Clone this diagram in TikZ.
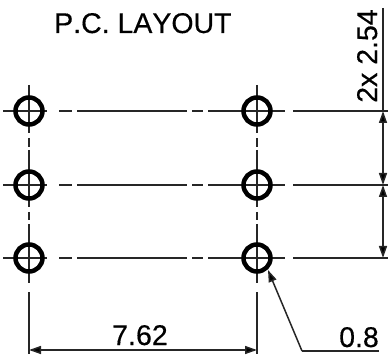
\documentclass[tikz,border=0pt]{standalone}
\usepackage{fontspec}
\setmainfont{Liberation Sans}
\newfontfamily\dimfont{Liberation Sans}[FakeBold=0.4,Kerning=Off]
\usetikzlibrary{arrows.meta}
\tikzset{
  thinline/.style={line width=1.5pt,draw=black!85},
  hole/.style={circle,draw=black,line width=4.5pt,minimum size=27pt,inner sep=0pt},
  dimarrow/.style={thinline,-{Triangle[length=12pt,width=8pt,fill=black]}},
  label/.style={inner sep=0pt,font=\dimfont\fontsize{28.5}{28.5}\selectfont,text=black}
}
\begin{document}
\begin{tikzpicture}[x=1pt,y=-1pt]
\useasboundingbox (0,0) rectangle (388,355);
% horizontal centre lines
\foreach \y in {111,185,258}{
  \draw[thinline] (3,\y) -- (47,\y);
  \draw[thinline] (59,\y) -- (72,\y);
  \draw[thinline] (77,\y) -- (187,\y);
  \draw[thinline] (192,\y) -- (203,\y);
  \draw[thinline] (208,\y) -- (285,\y);
  \draw[thinline] (293,\y) -- (388,\y);
}
% vertical centre lines
\foreach \x in {29,257}{
  \draw[thinline] (\x,85) -- (\x,133);
  \draw[thinline] (\x,138) -- (\x,147);
  \draw[thinline] (\x,150) -- (\x,207);
  \draw[thinline] (\x,212) -- (\x,220);
  \draw[thinline] (\x,224) -- (\x,283);
  \draw[thinline] (\x,292) -- (\x,354);
}
% holes
\node[hole] (a1) at (29,111) {};
\node[hole] (a2) at (29,185) {};
\node[hole] (a3) at (29,258) {};
\node[hole] (b1) at (257,111) {};
\node[hole] (b2) at (257,185) {};
\node[hole] (b3) at (257,258) {};
% vertical dimension
\coordinate (dtop) at (383,8);
\coordinate (d1) at (383,111);
\coordinate (d2) at (383,185);
\coordinate (d3) at (383,258);
\coordinate (dm) at (383,150);
\coordinate (dn) at (383,220);
\draw[thinline] (dtop) -- (d1);
\draw[dimarrow] (dm) -- (d1);
\draw[dimarrow] (dm) -- (d2);
\draw[dimarrow] (dn) -- (d2);
\draw[dimarrow] (dn) -- (d3);
% horizontal dimension
\coordinate (h1) at (29,350);
\coordinate (h2) at (257,350);
\coordinate (hm) at (143,350);
\draw[dimarrow] (hm) -- (h1);
\draw[dimarrow] (hm) -- (h2);
% leader
\coordinate (ltip) at (268,270);
\coordinate (lk) at (302,351);
\coordinate (lend) at (379,351);
\draw[thinline] (lend) -- (lk);
\draw[dimarrow] (lk) -- (ltip);
% texts
\node[label,anchor=base west] (title) at (54,33) {P.C. LAYOUT};
\node[label,anchor=base] (w) at (140,345) {7.62};
\node[label,anchor=base] (r) at (359,347) {0.8};
\node[label,anchor=base west,rotate=90] (p) at (377,103) {2x 2.54};
\end{tikzpicture}
\end{document}
